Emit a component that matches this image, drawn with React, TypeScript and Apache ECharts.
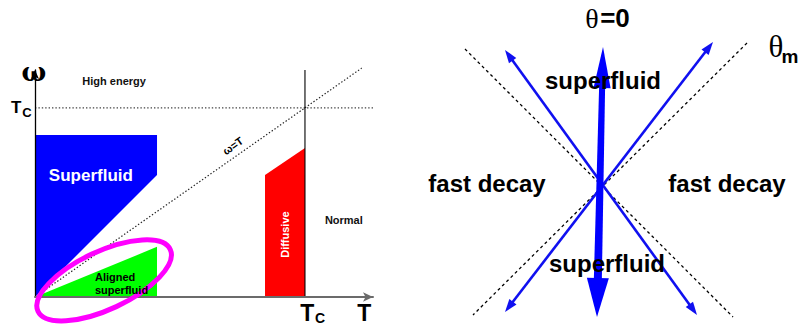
import React, { useEffect, useRef } from "react";
import * as echarts from "echarts";

// ---------- Left panel (phase diagram), data units: T / Tc and omega / Tc ----------
const bluePolygon: number[][] = [[0, 0.857], [0.452, 0.857], [0.452, 0.645], [0, 0]];
const greenPolygon: number[][] = [[0, 0], [0.452, 0.265], [0.452, 0]];
const redPolygon: number[][] = [[0.852, 0.645], [1, 0.788], [1, 0], [0.852, 0]];
const regionPolygons = [bluePolygon, greenPolygon, redPolygon];
const regionColors = ["#0000ff", "#00ff00", "#ff0000"];

const omegaEqualsT: number[][] = [[0, 0], [1.21, 1.21]];
const tcHorizontal: number[][] = [[0, 1], [1.304, 1]];
const tcVertical: number[][] = [[1, 0], [1, 1.2]];
const ellipseCenter: number[] = [0.256, 0.088];

const leftLabels = ["ω", "High energy", "T", "C", "Superfluid", "ω=T", "Aligned\nsuperfluid", "Diffusive", "Normal", "T", "C", "T"];
const leftLabelPos: number[][] = [
  [-0.004, 1.19], [0.293, 1.143], [-0.07, 1.0], [-0.03, 0.976], [0.207, 0.64], [0.733, 0.799],
  [0.222, 0.074], [0.926, 0.33], [1.144, 0.407], [1.009, -0.087], [1.056, -0.111], [1.22, -0.087],
];

// ---------- Right panel (angle diagram), data units: offset from the crossing point ----------
const dashedLines: number[][][] = [
  [[-135, 136], [133, -132]],
  [[147, 142], [-127, -130]],
];
const thinArrows: number[][] = [
  [-95, 135, 97, -130],
  [113, 143, -95, -127],
];
const thickArrow: number[][] = [[3, 138, -3, -132]];

const rightLabels = ["θ", "=0", "superfluid", "superfluid", "fast decay", "fast decay", "θ", "m"];
const rightLabelPos: number[][] = [
  [-8, 167], [15, 167], [3, 105], [7, -78], [-113, 2], [127, 2], [176, 139], [190, 129],
];

const SANS = "Liberation Sans, Arial, sans-serif";
const SERIF = "Liberation Serif, Times New Roman, serif";

const leftStyles = [
  { size: 26, family: "DejaVu Serif, serif", weight: "bold", fill: "#000" },
  { size: 11, family: SANS, weight: "bold", fill: "#111" },
  { size: 17, family: SANS, weight: "bold", fill: "#000" },
  { size: 13, family: SANS, weight: "bold", fill: "#000" },
  { size: 17, family: SANS, weight: "bold", fill: "#fff" },
  { size: 11, family: SANS, weight: "bold", fill: "#000", rot: 35.3 },
  { size: 11, family: SANS, weight: "bold", fill: "#000", align: "left", lh: 13 },
  { size: 11, family: SANS, weight: "bold", fill: "#fff", rot: 90 },
  { size: 11, family: SANS, weight: "bold", fill: "#111" },
  { size: 23, family: SANS, weight: "bold", fill: "#000" },
  { size: 14, family: SANS, weight: "bold", fill: "#000" },
  { size: 23, family: SANS, weight: "bold", fill: "#000" },
];
const rightStyles = [
  { size: 28, family: SERIF, weight: "normal", fill: "#000" },
  { size: 26, family: SANS, weight: "bold", fill: "#000" },
  { size: 24, family: SANS, weight: "bold", fill: "#000" },
  { size: 24, family: SANS, weight: "bold", fill: "#000" },
  { size: 24, family: SANS, weight: "bold", fill: "#000" },
  { size: 24, family: SANS, weight: "bold", fill: "#000" },
  { size: 31, family: SERIF, weight: "normal", fill: "#000" },
  { size: 19, family: SANS, weight: "bold", fill: "#000" },
];

function textRenderer(styles: any[], texts: string[]) {
  return (params: any, api: any) => {
    const i = params.dataIndex;
    const s = styles[i];
    const p = api.coord([api.value(0), api.value(1)]);
    return {
      type: "text",
      x: p[0],
      y: p[1],
      rotation: ((s.rot || 0) * Math.PI) / 180,
      style: {
        text: texts[i],
        fontSize: s.size,
        fontFamily: s.family,
        fontWeight: s.weight,
        fill: s.fill,
        align: s.align || "center",
        verticalAlign: "middle",
        lineHeight: s.lh || s.size * 1.15,
      },
    };
  };
}

function arrowChildren(p0: number[], p1: number[], L0: number, W0: number, L1: number, W1: number, w0: number, w1: number, color: string) {
  const dx = p1[0] - p0[0];
  const dy = p1[1] - p0[1];
  const len = Math.sqrt(dx * dx + dy * dy);
  const ux = dx / len, uy = dy / len;
  const nx = -uy, ny = ux;
  const b0 = [p0[0] + ux * L0, p0[1] + uy * L0];
  const b1 = [p1[0] - ux * L1, p1[1] - uy * L1];
  const s0 = [b0[0] - ux, b0[1] - uy];
  const s1 = [b1[0] + ux, b1[1] + uy];
  return [
    {
      type: "polygon",
      shape: { points: [[s0[0] + nx * w0 / 2, s0[1] + ny * w0 / 2], [s1[0] + nx * w1 / 2, s1[1] + ny * w1 / 2], [s1[0] - nx * w1 / 2, s1[1] - ny * w1 / 2], [s0[0] - nx * w0 / 2, s0[1] - ny * w0 / 2]] },
      style: { fill: color },
    },
    {
      type: "polygon",
      shape: { points: [p0, [b0[0] + nx * W0, b0[1] + ny * W0], [b0[0] - nx * W0, b0[1] - ny * W0]] },
      style: { fill: color },
    },
    {
      type: "polygon",
      shape: { points: [p1, [b1[0] + nx * W1, b1[1] + ny * W1], [b1[0] - nx * W1, b1[1] - ny * W1]] },
      style: { fill: color },
    },
  ];
}

export default function App() {
  const ref = useRef<HTMLDivElement>(null);
  useEffect(() => {
    document.body.style.margin = "0";
    const chart = echarts.init(ref.current!, null, { renderer: "svg" });
    const option: any = {
      animation: false,
      backgroundColor: "#ffffff",
      grid: [
        { left: 35, top: 70, width: 338, height: 227 },
        { left: 400, top: 0, width: 400, height: 326 },
      ],
      xAxis: [
        {
          gridIndex: 0, type: "value", min: 0, max: 1.252, z: 5,
          axisLine: { show: true, lineStyle: { color: "#6b6b6b", width: 2 }, symbol: ["none", "arrow"], symbolSize: [7, 10] },
          axisTick: { show: false }, axisLabel: { show: false }, splitLine: { show: false },
        },
        { gridIndex: 1, type: "value", min: -200, max: 200, show: false, splitLine: { show: false } },
      ],
      yAxis: [
        {
          gridIndex: 0, type: "value", min: 0, max: 1.2, z: 5,
          axisLine: { show: true, lineStyle: { color: "#000", width: 1.3 }, symbol: ["none", "arrow"], symbolSize: [6, 9] },
          axisTick: { show: false }, axisLabel: { show: false }, splitLine: { show: false },
        },
        { gridIndex: 1, type: "value", min: -141, max: 185, show: false, splitLine: { show: false } },
      ],
      series: [
        {
          type: "custom", xAxisIndex: 0, yAxisIndex: 0, z: 2, clip: false, silent: true,
          data: regionPolygons.map((_, i) => [i]),
          renderItem: (params: any, api: any) => {
            const poly = regionPolygons[params.dataIndex];
            return {
              type: "polygon",
              shape: { points: poly.map((p) => api.coord(p)) },
              style: { fill: regionColors[params.dataIndex] },
            };
          },
        },
        {
          type: "line", xAxisIndex: 0, yAxisIndex: 0, data: omegaEqualsT, symbol: "none", clip: false, silent: true, z: 3,
          lineStyle: { color: "#222", width: 1.2, type: [1.4, 2] },
        },
        {
          type: "line", xAxisIndex: 0, yAxisIndex: 0, data: tcHorizontal, symbol: "none", clip: false, silent: true, z: 3,
          lineStyle: { color: "#444", width: 1.2, type: [1.4, 2] },
        },
        {
          type: "line", xAxisIndex: 0, yAxisIndex: 0, data: tcVertical, symbol: "none", clip: false, silent: true, z: 3,
          lineStyle: { color: "#000", width: 1.1 },
        },
        {
          type: "custom", xAxisIndex: 0, yAxisIndex: 0, z: 6, clip: false, silent: true,
          data: [ellipseCenter],
          renderItem: (params: any, api: any) => {
            const c = api.coord([api.value(0), api.value(1)]);
            return {
              type: "ellipse",
              x: c[0], y: c[1],
              rotation: (25 * Math.PI) / 180,
              shape: { cx: 0, cy: 0, rx: 73, ry: 29 },
              style: { fill: null, stroke: "#ff00ff", lineWidth: 5 },
            };
          },
        },
        {
          type: "custom", xAxisIndex: 0, yAxisIndex: 0, z: 7, clip: false, silent: true,
          data: leftLabelPos,
          renderItem: textRenderer(leftStyles, leftLabels),
        },
        // right panel
        ...dashedLines.map((seg) => ({
          type: "line", xAxisIndex: 1, yAxisIndex: 1, data: seg, symbol: "none", clip: false, silent: true, z: 2,
          lineStyle: { color: "#000", width: 1.3, type: [3, 3] },
        })),
        {
          type: "custom", xAxisIndex: 1, yAxisIndex: 1, z: 3, clip: false, silent: true,
          data: thinArrows,
          renderItem: (params: any, api: any) => {
            const p0 = api.coord([api.value(0), api.value(1)]);
            const p1 = api.coord([api.value(2), api.value(3)]);
            return { type: "group", children: arrowChildren(p0, p1, 13, 4.5, 13, 4.5, 2.6, 2.6, "#1010f0") };
          },
        },
        {
          type: "custom", xAxisIndex: 1, yAxisIndex: 1, z: 4, clip: false, silent: true,
          data: thickArrow,
          renderItem: (params: any, api: any) => {
            const p0 = api.coord([api.value(0), api.value(1)]);
            const p1 = api.coord([api.value(2), api.value(3)]);
            return { type: "group", children: arrowChildren(p0, p1, 41, 8.5, 39, 11, 6, 8, "#0000ff") };
          },
        },
        {
          type: "custom", xAxisIndex: 1, yAxisIndex: 1, z: 7, clip: false, silent: true,
          data: rightLabelPos,
          renderItem: textRenderer(rightStyles, rightLabels),
        },
      ],
    };
    chart.setOption(option);
    return () => chart.dispose();
  }, []);
  return <div ref={ref} style={{ position: "fixed", left: 0, top: 0, width: 800, height: 326 }} />;
}
